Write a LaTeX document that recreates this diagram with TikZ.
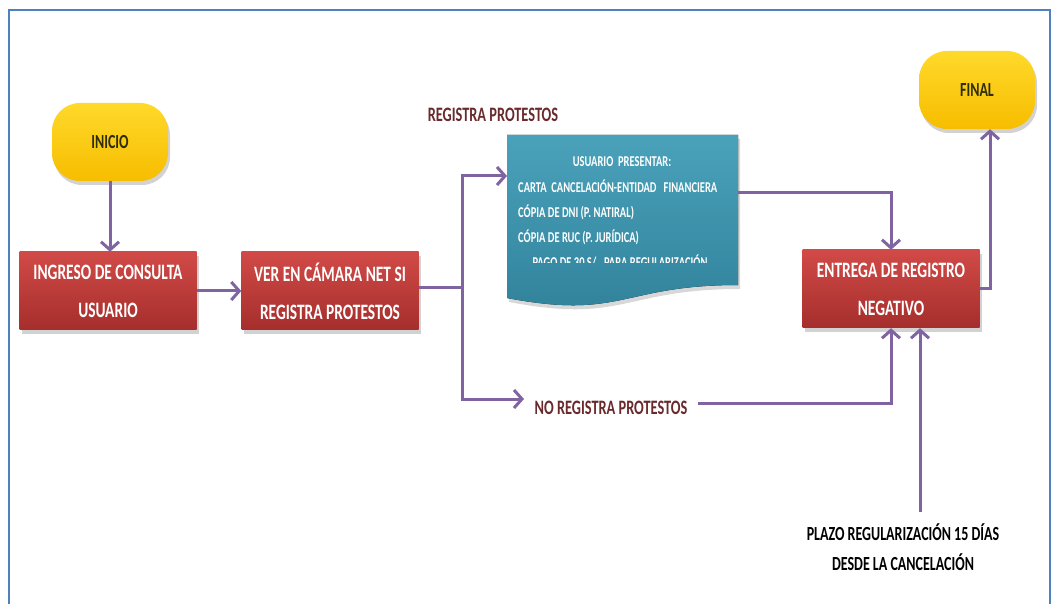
\documentclass[tikz,border=0pt]{standalone}
\usepackage{fontspec}
\setmainfont{Carlito}[FakeStretch=0.7]
\usetikzlibrary{arrows.meta,shadows}
\definecolor{frameblue}{HTML}{4F81BD}
\definecolor{flowpurple}{HTML}{8064A2}
\definecolor{procTop}{HTML}{D14A47}
\definecolor{procBot}{HTML}{A52E2C}
\definecolor{termTop}{HTML}{FFD92A}
\definecolor{termBot}{HTML}{F7BD00}
\definecolor{termText}{HTML}{2E2E05}
\definecolor{docTop}{HTML}{4AA2BA}
\definecolor{docBot}{HTML}{30819A}
\definecolor{labelRed}{HTML}{6A2A2C}
\tikzset{
  procbox/.style={rectangle, draw=none, top color=procTop, bottom color=procBot,
    minimum width=177pt, minimum height=78pt, text=white, align=center,
    font=\bfseries\fontsize{22}{38}\selectfont,
    drop shadow={shadow xshift=2pt, shadow yshift=-4pt, opacity=0.35}},
  termbox/.style={rectangle, rounded corners=28pt, draw=none, top color=termTop,
    bottom color=termBot, minimum width=116pt, minimum height=78pt,
    text=termText, font=\bfseries\fontsize{20}{24}\selectfont,
    drop shadow={shadow xshift=2pt, shadow yshift=-4pt, opacity=0.35}},
  doctext/.style={text=white, font=\bfseries\fontsize{15}{17}\selectfont, inner sep=0pt},
  flowlabel/.style={text=labelRed, font=\bfseries\fontsize{20.5}{24}\selectfont, inner sep=1pt},
  flow/.style={flowpurple, line width=3pt, -{Straight Barb[length=8pt,width=18pt]}},
  flowline/.style={flowpurple, line width=3pt}
}
\begin{document}
\begin{tikzpicture}[x=1pt,y=-1pt]
\useasboundingbox (0,0) rectangle (1053,604);
\fill[white] (0,0) rectangle (1053,604);
\draw[frameblue, line width=2pt] (9,612) -- (9,10) -- (1050,10) -- (1050,612);

% terminals and process boxes
\node[termbox] (inicio) at (110,142) {INICIO};
\node[procbox] (ingreso) at (108,291) {INGRESO DE CONSULTA\\USUARIO};
\node[procbox] (ver) at (330,291) {VER EN CÁMARA NET SI\\REGISTRA PROTESTOS};
\node[procbox] (entrega) at (891,289) {ENTREGA DE REGISTRO\\NEGATIVO};
\node[termbox] (final) at (977,90) {FINAL};

% document shape
\fill[top color=docTop, bottom color=docBot,
  drop shadow={shadow xshift=2pt, shadow yshift=-4pt, opacity=0.3}]
  (507,135) -- (738,135) -- (738,285) .. controls (622,285) and (622,320) .. (507,298) -- cycle;
\node[doctext] (d1) at (622,162) {USUARIO\ \ PRESENTAR:};
\node[doctext, anchor=west] (d2) at (518,186) {CARTA\ \ CANCELACIÓN-ENTIDAD\ \ \ FINANCIERA};
\node[doctext, anchor=west] (d3) at (518,212) {CÓPIA DE DNI\ (P. NATIRAL)};
\node[doctext, anchor=west] (d4) at (518,237) {CÓPIA DE RUC (P. JURÍDICA)};
\begin{scope}
\clip (507,250) rectangle (738,263);
\node[doctext] (d5) at (620,262) {PAGO DE 30 S/.\ \ PARA REGULARIZACIÓN};
\end{scope}
\coordinate (docin) at (507,176);
\coordinate (docout) at (738,193);

% labels
\node[flowlabel] (reglabel) at (493,115) {REGISTRA PROTESTOS};
\node[flowlabel] (noreg) at (611,408) {NO REGISTRA PROTESTOS};
\node[font=\bfseries\fontsize{20}{30}\selectfont, align=center, inner sep=1pt] (plazo) at (903,547)
  {PLAZO REGULARIZACIÓN 15 DÍAS\\DESDE LA CANCELACIÓN};

% connectors
\coordinate (split) at (462,288);
\coordinate (noin) at (524,399);
\coordinate (noout) at (698,403);
\coordinate (plazotop) at (920,512);
\draw[flow] (inicio.south) -- (inicio.south |- ingreso.north);
\draw[flow] (ingreso.east) -- (ver.west);
\draw[flowline] (ver.east |- split) -- (split);
\draw[flow] (split) |- (docin);
\draw[flow] (split) |- (noin);
\draw[flow] (noout) -| (entrega.south);
\draw[flow] (docout) -| (entrega.north);
\draw[flow] (entrega.east) -| ([xshift=13pt]final.south);
\draw[flow] (plazotop) -- (plazotop |- entrega.south);
\end{tikzpicture}
\end{document}
